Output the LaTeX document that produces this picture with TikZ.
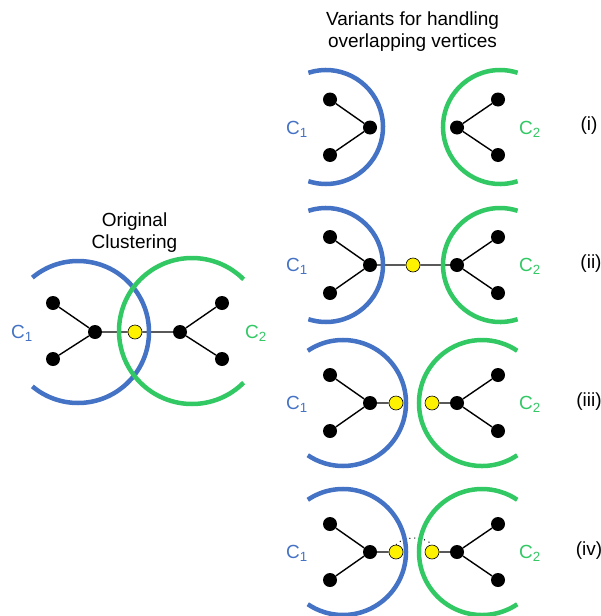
\documentclass[tikz,border=0pt]{standalone}
\usepackage{fontspec}
\setmainfont{Liberation Sans}
\usetikzlibrary{calc,backgrounds}
\definecolor{cblue}{RGB}{68,114,196}
\definecolor{cgreen}{RGB}{50,200,100}
\begin{document}
\begin{tikzpicture}[x=1pt,y=-1pt,
  vtx/.style={circle,fill=black,minimum size=14pt,inner sep=0pt},
  ovl/.style={circle,fill=yellow,draw=black,line width=0.6pt,minimum size=14pt,inner sep=0pt},
  edge/.style={line width=1.4pt,black},
  bluearc/.style={cblue,line width=4.5pt},
  greenarc/.style={cgreen,line width=4.5pt},
  txt/.style={font=\fontsize{19}{23}\selectfont,inner sep=0pt,anchor=base},
  clabel/.style={txt},
  hint/.style={dash pattern=on 1pt off 4pt,line width=1pt,black}
]
\useasboundingbox (0,0) rectangle (601,616);

% ---------- headings ----------
\node[txt] (h1) at (412.5,25) {Variants for handling};
\node[txt] (h2) at (412.5,47) {overlapping vertices};
\node[txt] (o1) at (134.5,226) {Original};
\node[txt] (o2) at (134.5,248.5) {Clustering};

% ---------- original clustering ----------
\node[vtx] (a1) at (53,303) {};
\node[vtx] (a2) at (53,359) {};
\node[vtx] (a3) at (95,332) {};
\node[ovl] (a0) at (135,332) {};
\node[vtx] (b3) at (180,332) {};
\node[vtx] (b1) at (222,303) {};
\node[vtx] (b2) at (222,359) {};
\node[clabel,text=cblue] (ac) at (22,338) {C\textsubscript{1}};
\node[clabel,text=cgreen] (bc) at (256,338) {C\textsubscript{2}};

% ---------- variant (i) ----------
\node[vtx] (i1) at (330,99.5) {};
\node[vtx] (i2) at (330,155) {};
\node[vtx] (i3) at (370,127.5) {};
\node[vtx] (j3) at (457,127.5) {};
\node[vtx] (j1) at (498,99.5) {};
\node[vtx] (j2) at (498,155) {};
\node[clabel,text=cblue] (ic) at (297,134) {C\textsubscript{1}};
\node[clabel,text=cgreen] (jc) at (530,134) {C\textsubscript{2}};
\node[txt] (ni) at (589,130) {(i)};

% ---------- variant (ii) ----------
\node[vtx] (p1) at (330,237) {};
\node[vtx] (p2) at (330,293) {};
\node[vtx] (p3) at (370,265) {};
\node[ovl] (p0) at (413,265) {};
\node[vtx] (q3) at (457,265) {};
\node[vtx] (q1) at (498,237) {};
\node[vtx] (q2) at (498,293) {};
\node[clabel,text=cblue] (pc) at (297,271.5) {C\textsubscript{1}};
\node[clabel,text=cgreen] (qc) at (530,271.5) {C\textsubscript{2}};
\node[txt] (nii) at (591,268.5) {(ii)};

% ---------- variant (iii) ----------
\node[vtx] (r1) at (330,375) {};
\node[vtx] (r2) at (330,431) {};
\node[vtx] (r3) at (370,403) {};
\node[ovl] (r0) at (396,403) {};
\node[ovl] (s0) at (432,403) {};
\node[vtx] (s3) at (457,403) {};
\node[vtx] (s1) at (498,375) {};
\node[vtx] (s2) at (498,431) {};
\node[clabel,text=cblue] (rc) at (297,409.5) {C\textsubscript{1}};
\node[clabel,text=cgreen] (sc) at (530,409.5) {C\textsubscript{2}};
\node[txt] (niii) at (589,406.5) {(iii)};

% ---------- variant (iv) ----------
\node[vtx] (u1) at (330,524) {};
\node[vtx] (u2) at (330,580) {};
\node[vtx] (u3) at (370,552) {};
\node[ovl] (u0) at (396,552) {};
\node[ovl] (v0) at (432,552) {};
\node[vtx] (v3) at (457,552) {};
\node[vtx] (v1) at (498,524) {};
\node[vtx] (v2) at (498,580) {};
\node[clabel,text=cblue] (uc) at (297,558.5) {C\textsubscript{1}};
\node[clabel,text=cgreen] (vc) at (530,558.5) {C\textsubscript{2}};
\node[txt] (niv) at (589,555.5) {(iv)};

\begin{pgfonlayer}{background}
  % edges
  \draw[edge] (a1) -- (a3) -- (a2) (a3) -- (a0) -- (b3) (b1) -- (b3) -- (b2);
  \draw[edge] (i1) -- (i3) -- (i2) (j1) -- (j3) -- (j2);
  \draw[edge] (p1) -- (p3) -- (p2) (p3) -- (p0) -- (q3) (q1) -- (q3) -- (q2);
  \draw[edge] (r1) -- (r3) -- (r2) (r3) -- (r0) (s0) -- (s3) (s1) -- (s3) -- (s2);
  \draw[edge] (u1) -- (u3) -- (u2) (u3) -- (u0) (v0) -- (v3) (v1) -- (v3) -- (v2);
  \draw[hint] (u0.north) .. controls ($(u0.north)+(8,-9)$) and ($(v0.north)+(-8,-9)$) .. (v0.north);

  % cluster outlines
  \draw[bluearc] ($(78,332)+(-130:71)$) arc[start angle=-130, end angle=130, radius=71];
  \draw[greenarc] ($(192,331)+(45:73)$) arc[start angle=45, end angle=315, radius=73];

  \draw[bluearc] ($(326,127)+(-108:57)$) arc[start angle=-108, end angle=108, radius=57];
  \draw[greenarc] ($(500,127)+(72:57)$) arc[start angle=72, end angle=288, radius=57];

  \draw[bluearc] ($(326,265)+(-108:57)$) arc[start angle=-108, end angle=108, radius=57];
  \draw[greenarc] ($(500,265)+(72:57)$) arc[start angle=72, end angle=288, radius=57];

  \draw[bluearc] ($(343,403)+(-124:63)$) arc[start angle=-124, end angle=124, radius=63];
  \draw[greenarc] ($(482,403)+(56:63)$) arc[start angle=56, end angle=304, radius=63];

  \draw[bluearc] ($(343,552)+(-124:63)$) arc[start angle=-124, end angle=124, radius=63];
  \draw[greenarc] ($(482,552)+(56:63)$) arc[start angle=56, end angle=304, radius=63];
\end{pgfonlayer}
\end{tikzpicture}
\end{document}
